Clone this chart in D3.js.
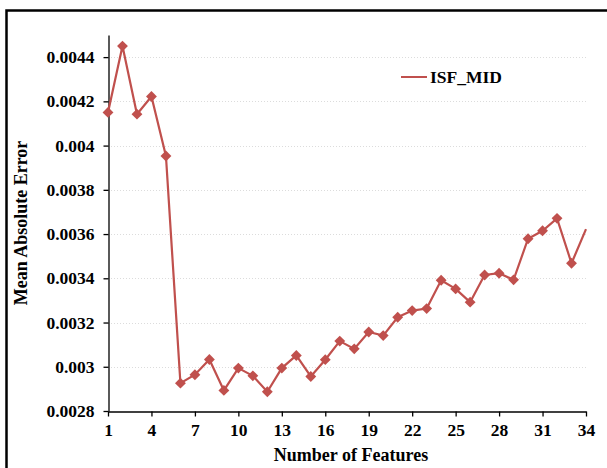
<!DOCTYPE html>
<html>
<head>
<meta charset="utf-8">
<script src="https://cdn.jsdelivr.net/npm/d3@7"></script>
<style>
  body { margin: 0; background: #fff; }
  svg text { font-family: "Liberation Serif", "Times New Roman", serif; font-weight: bold; }
</style>
</head>
<body>
<div id="chart"></div>
<script>
// data
const features = d3.range(1, 35);
const maeValues = [
  0.00415, 0.00445, 0.004142, 0.004222, 0.003953, 0.002926, 0.002964, 0.003033,
  0.002893, 0.002994, 0.002959, 0.002887, 0.002994, 0.003051, 0.002956, 0.003032,
  0.003116, 0.003081, 0.003157, 0.003141, 0.003224, 0.003254, 0.003263, 0.003391,
  0.003352, 0.003292, 0.003415, 0.003423, 0.003393, 0.003579, 0.003615, 0.003671,
  0.003468, 0.003622
];
const xTicks = [1, 4, 7, 10, 13, 16, 19, 22, 25, 28, 31, 34];
const yTicks = [0.0028, 0.003, 0.0032, 0.0034, 0.0036, 0.0038, 0.004, 0.0042, 0.0044];
const seriesName = "ISF_MID";

const width = 607, height = 468;
const margin = { top: 35, right: 21, bottom: 57, left: 108 };
const color = "#C0504D";

const svg = d3.select("#chart")
  .append("svg")
  .attr("width", width)
  .attr("height", height);

// outer frame
svg.append("rect")
  .attr("x", 6.5).attr("y", 10.5)
  .attr("width", 640).attr("height", 500)
  .attr("fill", "none")
  .attr("stroke", "#000")
  .attr("stroke-width", 2.5);

const x = d3.scaleLinear()
  .domain([1, 34])
  .range([margin.left, width - margin.right]);

const y = d3.scaleLinear()
  .domain([0.0028, 0.0045])
  .range([height - margin.bottom, margin.top]);

// gridlines
svg.append("g")
  .selectAll("line")
  .data(yTicks.slice(1))
  .join("line")
  .attr("x1", x(1)).attr("x2", x(34))
  .attr("y1", d => Math.round(y(d)) + 0.5)
  .attr("y2", d => Math.round(y(d)) + 0.5)
  .attr("stroke", "#dcdcdc")
  .attr("stroke-dasharray", "1,2");

// x axis
const xAxis = svg.append("g")
  .attr("transform", `translate(0, ${Math.round(y(0.0028)) + 0.5})`)
  .call(d3.axisBottom(x).tickValues(xTicks).tickSize(5).tickPadding(7).tickSizeOuter(0));

// y axis
const yAxis = svg.append("g")
  .attr("transform", `translate(${Math.round(x(1)) + 0.5}, 0)`)
  .call(d3.axisLeft(y).tickValues(yTicks).tickFormat(d => +d.toFixed(4) + "").tickSize(5).tickPadding(9).tickSizeOuter(0));

svg.selectAll(".domain, .tick line").attr("stroke", "#000").attr("stroke-width", 1.3);
svg.selectAll(".tick text")
  .attr("font-size", 17.5)
  .attr("fill", "#000")
  .style("font-family", "'Liberation Serif', serif")
  .style("font-weight", "bold");

// axis titles
svg.append("text")
  .attr("x", (x(1) + x(34)) / 2 + 4)
  .attr("y", 461)
  .attr("text-anchor", "middle")
  .attr("font-size", 18)
  .text("Number of Features");

svg.append("text")
  .attr("transform", `translate(27, ${(y(0.0028) + y(0.0045)) / 2}) rotate(-90)`)
  .attr("text-anchor", "middle")
  .attr("font-size", 18)
  .text("Mean Absolute Error");

// line
const points = features.map((f, i) => ({ f, v: maeValues[i] }));
const line = d3.line().x(d => x(d.f)).y(d => y(d.v));

svg.append("path")
  .datum(points)
  .attr("d", line)
  .attr("fill", "none")
  .attr("stroke", color)
  .attr("stroke-width", 2.2);

// diamond markers (the last point has none in the original)
svg.append("g")
  .selectAll("path")
  .data(points.slice(0, -1))
  .join("path")
  .attr("d", d3.symbol().type(d3.symbolDiamond2).size(75))
  .attr("transform", d => `translate(${x(d.f)}, ${y(d.v)})`)
  .attr("fill", color);

// legend
const legend = svg.append("g").attr("transform", "translate(401, 77)");
legend.append("line")
  .attr("x1", 0).attr("x2", 26)
  .attr("stroke", color)
  .attr("stroke-width", 2);
legend.append("text")
  .attr("x", 29)
  .attr("y", 6)
  .attr("font-size", 17.5)
  .text(seriesName);
</script>
</body>
</html>
